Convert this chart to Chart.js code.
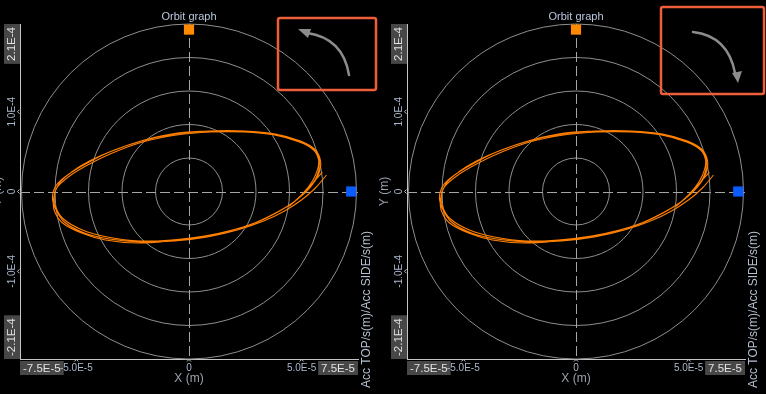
<!DOCTYPE html>
<html><head><meta charset="utf-8">
<script src="https://cdn.jsdelivr.net/npm/chart.js@4.4.1/dist/chart.umd.min.js"></script>
<style>
html,body{margin:0;padding:0;background:#000;width:766px;height:394px;overflow:hidden;position:relative}
.wrap{position:absolute;top:0;width:395px;height:394px}
#w1{left:-12px}
#w2{left:375px}
canvas{display:block}
</style></head><body>
<div class="wrap" id="w1"><canvas id="c1" width="395" height="394"></canvas></div>
<div class="wrap" id="w2"><canvas id="c2" width="395" height="394"></canvas></div>
<script>
// ---- data (micrometres) ----
const UM = 1e-6;
const orbitX_um = [61.0,56.1,49.9,42.4,33.1,21.5,8.2,-6.4,-21.1,-35.3,-46.4,-55.3,-59.2,-60.6,-58.8,-53.9,-45.9,-35.3,-21.1,-6.0,9.1,24.6,38.4,49.5,55.7,58.4,57.5,53.9,47.7,40.2,30.4,19.3,6.9,-7.8,-22.0,-36.2,-47.3,-55.7,-59.2,-59.7,-57.5,-52.1,-44.2,-33.1,-19.7,-5.1,10.0,25.5,38.8,49.9,56.1,57.9,56.6,52.1,45.9,38.4,29.1,18.0,5.5,-8.7,-22.9,-37.1,-47.7,-56.1,-59.7,-60.1,-58.4,-53.0,-45.0,-34.0,-20.6,-5.5,9.5,24.6,37.9,49.0,55.3,57.5,57.0,54.8,50.4,44.6,51.3,59.2];
const orbitY_um = [20.7,4.4,-10.7,-24.4,-37.0,-48.3,-57.0,-62.1,-63.3,-59.6,-52.0,-38.2,-21.9,-6.9,8.1,20.7,34.5,49.5,63.3,72.1,75.8,75.8,72.1,63.3,53.3,38.2,21.9,5.6,-10.7,-24.4,-38.2,-48.3,-55.8,-60.8,-62.1,-57.0,-48.3,-34.5,-19.4,-4.4,10.7,24.4,38.2,52.0,64.6,73.3,75.8,74.6,70.8,62.1,50.8,35.7,18.2,0.6,-14.4,-27.0,-39.5,-49.5,-57.0,-62.1,-64.6,-60.8,-52.0,-39.5,-24.4,-9.4,5.6,19.4,33.2,48.3,62.1,70.8,74.6,74.6,70.8,62.1,52.0,39.5,27.0,13.2,-3.1,-18.2,-0.6,24.4];
const topSensorX_um = [0];
const topSensorY_um = [203];
const sideSensorX_um = [72];
const sideSensorY_um = [0];
const xRange = [-7.5e-5, 7.5e-5];
const yRange = [-2.1e-4, 2.1e-4];
const xTickValues = [-7.5e-5, -5.0e-5, 0, 5.0e-5, 7.5e-5];
const xTickLabels = ['-7.5E-5', '-5.0E-5', '0', '5.0E-5', '7.5E-5'];
const yTickValues = [-2.1e-4, -1.0e-4, 0, 1.0e-4, 2.1e-4];
const yTickLabels = ['-2.1E-4', '-1.0E-4', '0', '1.0E-4', '2.1E-4'];
const ringCount = 5;
const titleText = 'Orbit graph';
const xTitle = 'X (m)';
const yTitle = 'Y (m)';
const rightTitle = 'Acc TOP/s(m)/Acc SIDE/s(m)';

const FONT = '"Liberation Sans", Arial, sans-serif';

function pts(xs, ys){ return xs.map((v,i)=>({x:v*UM, y:ys[i]*UM})); }

function decoPlugin(deco){
  return {
    id:'deco',
    beforeDatasetsDraw(chart){
      const {ctx, chartArea:a, scales:{x,y}} = chart;
      const cx = x.getPixelForValue(0), cy = y.getPixelForValue(0);
      const R = cy - a.top;
      ctx.save();
      ctx.strokeStyle = '#8e8e8e'; ctx.lineWidth = 1;
      for (let i=1;i<=ringCount;i++){
        ctx.beginPath(); ctx.arc(cx, cy, R*i/ringCount, 0, Math.PI*2); ctx.stroke();
      }
      ctx.strokeStyle = '#a6a6a6'; ctx.setLineDash([10,4]);
      ctx.beginPath(); ctx.moveTo(a.left, Math.round(cy)+0.5); ctx.lineTo(a.right, Math.round(cy)+0.5); ctx.stroke();
      ctx.beginPath(); ctx.moveTo(Math.round(cx)+0.5, a.top); ctx.lineTo(Math.round(cx)+0.5, a.bottom); ctx.stroke();
      ctx.restore();
    },
    afterDraw(chart){
      const {ctx, chartArea:a, scales:{x,y}} = chart;
      const cx = x.getPixelForValue(0), cy = y.getPixelForValue(0);
      ctx.save();
      // title
      ctx.font = '11px ' + FONT; ctx.fillStyle = '#b9c8de'; ctx.textAlign='center'; ctx.textBaseline='middle';
      ctx.fillText(titleText, (a.left+a.right)/2, 17);
      // x ticks
      const n = xTickValues.length;
      xTickValues.forEach((v,i)=>{
        const px = x.getPixelForValue(v);
        if (i===0 || i===n-1){
          ctx.font = '11.5px ' + FONT;
          const w = ctx.measureText(xTickLabels[i]).width + 6;
          const bx = i===0 ? a.left : a.right - w;
          ctx.fillStyle = '#474747'; ctx.fillRect(bx, a.bottom+2, w, 14);
          ctx.fillStyle = '#e2e2e2'; ctx.textAlign='center'; ctx.textBaseline='middle';
          ctx.fillText(xTickLabels[i], bx + w/2, a.bottom+9.5);
        } else {
          ctx.font = '10px ' + FONT; ctx.fillStyle = '#aab8cc'; ctx.textAlign='center'; ctx.textBaseline='middle';
          ctx.fillText(xTickLabels[i], px, a.bottom+9.5);
          ctx.strokeStyle = '#c4c4c4'; ctx.lineWidth = 1;
          ctx.beginPath(); ctx.moveTo(px-2, a.bottom+2.5); ctx.lineTo(px, a.bottom+0.5); ctx.lineTo(px+2, a.bottom+2.5); ctx.stroke();
        }
      });
      // y ticks (rotated)
      const m = yTickValues.length;
      yTickValues.forEach((v,i)=>{
        const py = y.getPixelForValue(v);
        ctx.save();
        if (i===0 || i===m-1){
          ctx.font = '11.5px ' + FONT;
          const w = ctx.measureText(yTickLabels[i]).width + 6;
          const by = i===m-1 ? a.top : a.bottom - w;
          ctx.fillStyle = '#474747'; ctx.fillRect(a.left-16, by, 16, w);
          ctx.translate(a.left-8, by + w/2); ctx.rotate(-Math.PI/2);
          ctx.fillStyle = '#e2e2e2'; ctx.textAlign='center'; ctx.textBaseline='middle';
          ctx.fillText(yTickLabels[i], 0, 0);
        } else {
          ctx.strokeStyle = '#c4c4c4'; ctx.lineWidth = 1;
          ctx.beginPath(); ctx.moveTo(a.left-0.5, py-2); ctx.lineTo(a.left-2.5, py); ctx.lineTo(a.left-0.5, py+2); ctx.stroke();
          ctx.font = '10px ' + FONT;
          ctx.translate(a.left-8, py); ctx.rotate(-Math.PI/2);
          ctx.fillStyle = '#aab8cc'; ctx.textAlign='center'; ctx.textBaseline='middle';
          ctx.fillText(yTickLabels[i], 0, 0);
        }
        ctx.restore();
      });
      // axis titles
      ctx.font = '12px ' + FONT; ctx.fillStyle = '#9aa2ae'; ctx.textAlign='center'; ctx.textBaseline='middle';
      ctx.fillText(xTitle, cx, 379);
      ctx.save(); ctx.translate(a.left-22, cy); ctx.rotate(-Math.PI/2);
      ctx.fillText(yTitle, 0, 0); ctx.restore();
      ctx.save(); ctx.translate(a.right+9, 388); ctx.rotate(-Math.PI/2);
      ctx.fillStyle = '#b4bfcf'; ctx.textAlign='left';
      ctx.fillText(rightTitle, 0, 0); ctx.restore();
      // rotation-direction box
      const L = a.left;
      ctx.strokeStyle = '#ee5e3a'; ctx.lineWidth = 2.5; ctx.lineJoin='round';
      ctx.beginPath();
      if (ctx.roundRect) ctx.roundRect(L+deco.box[0], deco.box[1], deco.box[2]-deco.box[0], deco.box[3]-deco.box[1], 2);
      else ctx.rect(L+deco.box[0], deco.box[1], deco.box[2]-deco.box[0], deco.box[3]-deco.box[1]);
      ctx.stroke();
      ctx.strokeStyle = '#8c8c8c'; ctx.fillStyle = '#8c8c8c'; ctx.lineWidth = 2.5; ctx.lineCap='round';
      const c = deco.curve;
      ctx.beginPath(); ctx.moveTo(L+c[0], c[1]); ctx.quadraticCurveTo(L+c[2], c[3], L+c[4], c[5]); ctx.stroke();
      const h = deco.head;
      ctx.beginPath(); ctx.moveTo(L+h[0], h[1]); ctx.lineTo(L+h[2], h[3]); ctx.lineTo(L+h[4], h[5]); ctx.closePath(); ctx.fill();
      ctx.restore();
    }
  };
}

function makeChart(id, deco){
  return new Chart(document.getElementById(id), {
    type:'scatter',
    data:{ datasets:[
      { data: pts(orbitX_um, orbitY_um), showLine:true, borderColor:'#ff8000', borderWidth:1.1, pointRadius:0, tension:0.35, fill:false },
      { data: pts(topSensorX_um, topSensorY_um), pointStyle:'rect', pointRadius:7.2, backgroundColor:'#ff8a00', borderWidth:0 },
      { data: pts(sideSensorX_um, sideSensorY_um), pointStyle:'rect', pointRadius:7.2, backgroundColor:'#0a5cff', borderWidth:0 }
    ]},
    options:{
      responsive:false, devicePixelRatio:1, animation:false,
      layout:{ padding:{ left:32, right:25, top:24, bottom:35 } },
      plugins:{ legend:{display:false}, tooltip:{enabled:false}, title:{display:false} },
      scales:{
        x:{ type:'linear', min:xRange[0], max:xRange[1], grid:{display:false, drawTicks:false}, ticks:{display:false}, border:{display:true, color:'#c4c4c4', width:1} },
        y:{ type:'linear', min:yRange[0], max:yRange[1], grid:{display:false, drawTicks:false}, ticks:{display:false}, border:{display:true, color:'#c4c4c4', width:1} }
      }
    },
    plugins:[decoPlugin(deco)]
  });
}

makeChart('c1', { box:[258,18,356,90], curve:[329,75,323,38,287,33], head:[278,29,291,29,288,38] });
makeChart('c2', { box:[254,7,357,94], curve:[286,32,321,36,328,73], head:[331,83,325,73,335,71] });
</script>
</body></html>
